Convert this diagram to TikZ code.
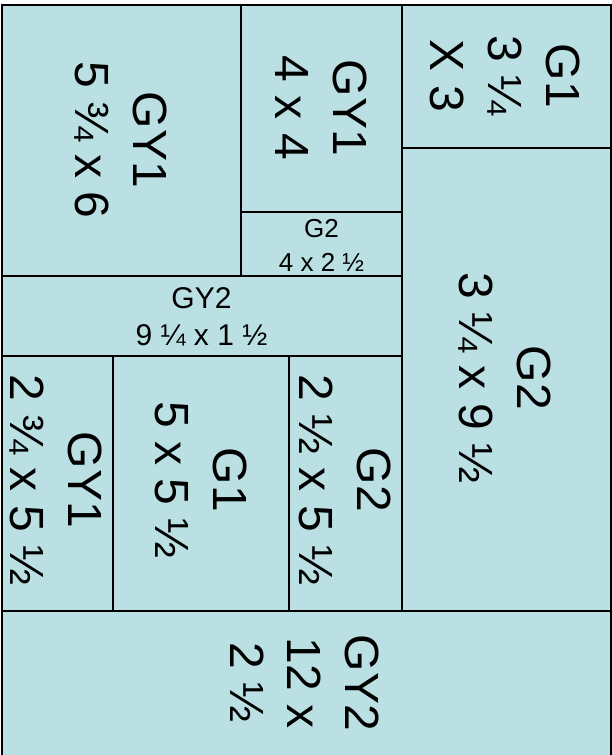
\documentclass[tikz,border=0pt]{standalone}
\usepackage{fontspec}
\setmainfont{Liberation Sans}
\definecolor{panel}{HTML}{BBE0E3}

\begin{document}
\begin{tikzpicture}[
  x=1pt, y=-1pt,
  piece/.style={draw=black,fill=panel,line width=2pt},
  bigcut/.style={rotate=-90,align=center,inner sep=0pt,font=\fontsize{48}{57.6}\selectfont},
  barcut/.style={align=center,inner sep=0pt,font=\fontsize{30}{37.5}\selectfont},
  smallcut/.style={align=center,inner sep=0pt,font=\fontsize{26}{34}\selectfont}
]
  \useasboundingbox (0,0) rectangle (612,755);

  % top row
  \draw[piece] (1.5,4.5) rectangle (241,276);
  \draw[piece] (241,4.5) rectangle (402,212);
  \draw[piece] (402,4.5) rectangle (610.5,148);
  \draw[piece] (241,212) rectangle (402,276);
  % bar and right column
  \draw[piece] (1.5,276) rectangle (402,356);
  \draw[piece] (402,148) rectangle (610.5,611);
  % lower row
  \draw[piece] (1.5,356) rectangle (113,611);
  \draw[piece] (113,356) rectangle (289,611);
  \draw[piece] (289,356) rectangle (402,611);
  % base strip
  \draw[piece] (1.5,611) rectangle (610.5,757);

  \node[bigcut] (gylarge) at (121,140) {GY1\\5 ¾ x 6};
  \node[bigcut] (gysquare) at (321.5,108) {GY1\\4 x 4};
  \node[bigcut] (gonecorner) at (505,76) {G1\\3 ¼\\X 3};
  \node[smallcut] (gtwostrip) at (321.5,245) {G2\\4 x 2 ½};
  \node[barcut] (gytwobar) at (201.5,317) {GY2\\9 ¼ x 1 ½};
  \node[bigcut] (gtwotall) at (505,378) {G2\\3 ¼ x 9 ½};
  \node[bigcut] (gynarrow) at (56,480) {GY1\\2 ¾ x 5 ½};
  \node[bigcut] (gonemid) at (201,480) {G1\\5 x 5 ½};
  \node[bigcut] (gtwonarrow) at (345,480) {G2\\2 ½ x 5 ½};
  \node[bigcut] (gytwobase) at (304.5,683) {GY2\\12 x\\2 ½};
\end{tikzpicture}
\end{document}
